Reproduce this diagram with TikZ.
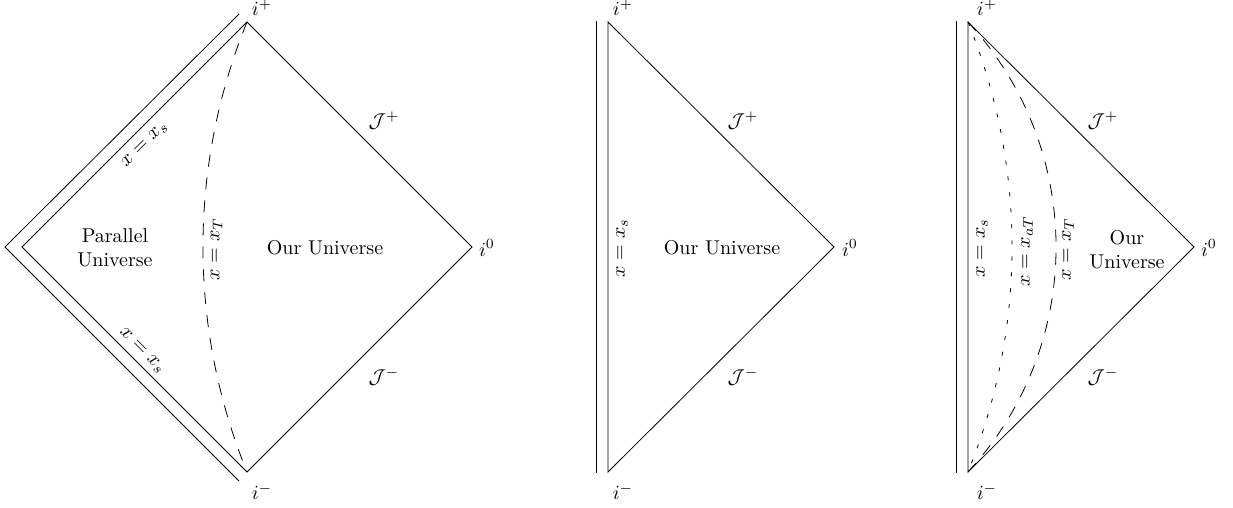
\documentclass[tikz,border=0pt]{standalone}
\begin{document}
\begin{tikzpicture}[x=0.5pt,y=0.5pt,
  lbl/.style={inner sep=0pt},
  dashcurve/.style={dash pattern=on 6pt off 5.5pt},
  dotcurve/.style={dash pattern=on 2pt off 6pt}]
\useasboundingbox (0,0) rectangle (1233,508);
% ---------- left diagram ----------
\coordinate (Lp) at (247,486);
\coordinate (Lm) at (247,36);
\coordinate (L0) at (472,261);
\coordinate (Ll) at (22,261);
\coordinate (Lot) at (239,494);
\coordinate (Lol) at (5,261);
\coordinate (Lob) at (239,27);
\draw (Lp) -- (L0) -- (Lm) -- (Ll) -- cycle;
\draw (Lot) -- (Lol) -- (Lob);
\draw[dashcurve] (Lp) .. controls (188.3,341.7) and (188.3,180.3) .. (Lm);
\node[lbl] (Lip) at (262,500) {$i^+$};
\node[lbl] (Lim) at (262,16) {$i^-$};
\node[lbl] (Li0) at (487,260) {$i^0$};
\node[lbl] (LJp) at (384,387) {$\mathcal{J}^+$};
\node[lbl] (LJm) at (384,131) {$\mathcal{J}^-$};
\node[lbl,rotate=45] (Lxs1) at (145,363) {$x=x_s$};
\node[lbl,rotate=-45] (Lxs2) at (142,157) {$x=x_s$};
\node[lbl,rotate=90] (LxT) at (216.5,259) {$x=x_T$};
\node[lbl,align=center] (Lpar) at (115,260) {Parallel\\Universe};
\node[lbl] (Lour) at (325,260) {Our Universe};
% ---------- middle diagram ----------
\coordinate (Mp) at (608,486);
\coordinate (Mm) at (608,36);
\coordinate (M0) at (834,261);
\coordinate (Mot) at (596,487);
\coordinate (Mob) at (596,35);
\draw (Mp) -- (M0) -- (Mm) -- cycle;
\draw (Mot) -- (Mob);
\node[lbl] (Mip) at (623,500) {$i^+$};
\node[lbl] (Mim) at (623,16) {$i^-$};
\node[lbl] (Mi0) at (850,260) {$i^0$};
\node[lbl] (MJp) at (743,387) {$\mathcal{J}^+$};
\node[lbl] (MJm) at (743,131) {$\mathcal{J}^-$};
\node[lbl,rotate=90] (Mxs) at (622,260) {$x=x_s$};
\node[lbl] (Mour) at (722,260) {Our Universe};
% ---------- right diagram ----------
\coordinate (Rp) at (968,486);
\coordinate (Rm) at (968,36);
\coordinate (R0) at (1194,261);
\coordinate (Rot) at (956,487);
\coordinate (Rob) at (956,35);
\draw (Rp) -- (R0) -- (Rm) -- cycle;
\draw (Rot) -- (Rob);
\draw[dotcurve] (Rp) .. controls (1026.7,341.7) and (1026.7,180.3) .. (Rm);
\draw[dashcurve] (Rp) .. controls (1085.4,358.9) and (1085.4,163.1) .. (Rm);
\node[lbl] (Rip) at (987,500) {$i^+$};
\node[lbl] (Rim) at (987,16) {$i^-$};
\node[lbl] (Ri0) at (1209,260) {$i^0$};
\node[lbl] (RJp) at (1103,387) {$\mathcal{J}^+$};
\node[lbl] (RJm) at (1103,131) {$\mathcal{J}^-$};
\node[lbl,rotate=90] (Rxs) at (982,260) {$x=x_s$};
\node[lbl,rotate=90] (RxaT) at (1027,257) {$x=x_{aT}$};
\node[lbl,rotate=90] (RxT) at (1068,259) {$x=x_T$};
\node[lbl,align=center] (Rour) at (1127,258) {Our\\Universe};
\end{tikzpicture}
\end{document}
